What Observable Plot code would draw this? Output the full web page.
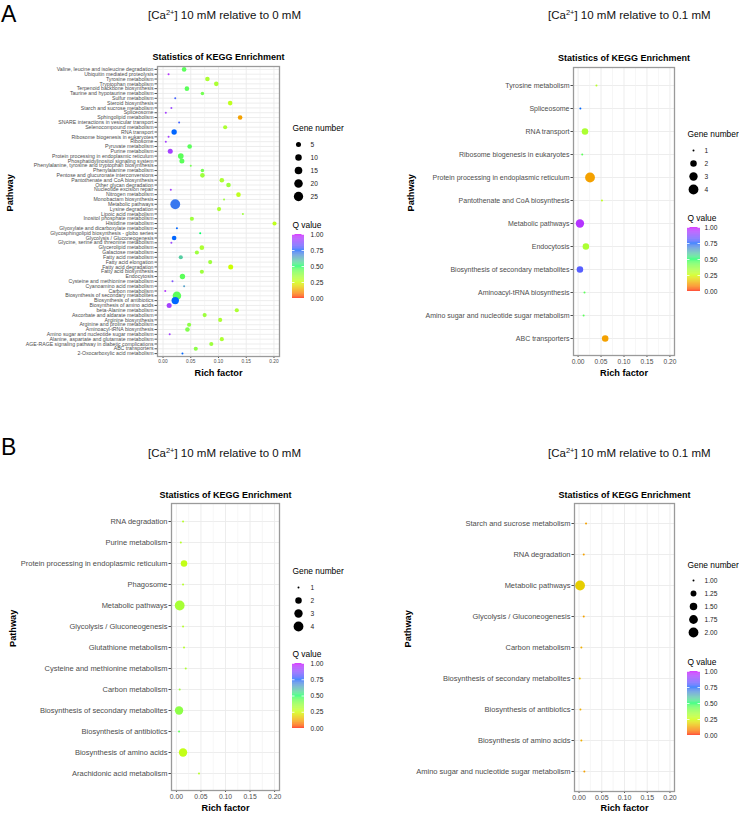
<!DOCTYPE html>
<html><head><meta charset="utf-8">
<script src="https://cdn.jsdelivr.net/npm/d3@7"></script>
<script src="https://cdn.jsdelivr.net/npm/@observablehq/plot@0.6"></script>
<style>
body{margin:0;background:#fff;}
#root{position:relative;width:739px;height:814px;overflow:hidden;font-family:"Liberation Sans",Arial,sans-serif;background:#fff;}
.letter{font-size:23px;line-height:26px;color:#000;}
.sub{font-size:11.5px;line-height:12px;color:#111;white-space:nowrap;}
.sub sup{font-size:7.5px;vertical-align:4px;line-height:0;}
</style></head><body><div id="root"></div>
<script>
// ---------- Panel A, left: [Ca2+] 10 mM relative to 0 mM ----------
const aLeftPathways = [
"Valine, leucine and isoleucine degradation","Ubiquitin mediated proteolysis","Tyrosine metabolism","Tryptophan metabolism",
"Terpenoid backbone biosynthesis","Taurine and hypotaurine metabolism","Sulfur metabolism","Steroid biosynthesis",
"Starch and sucrose metabolism","Spliceosome","Sphingolipid metabolism","SNARE interactions in vesicular transport",
"Selenocompound metabolism","RNA transport","Ribosome biogenesis in eukaryotes","Ribosome","Pyruvate metabolism",
"Purine metabolism","Protein processing in endoplasmic reticulum","Phosphatidylinositol signaling system",
"Phenylalanine, tyrosine and tryptophan biosynthesis","Phenylalanine metabolism","Pentose and glucuronate interconversions",
"Pantothenate and CoA biosynthesis","Other glycan degradation","Nucleotide excision repair","Nitrogen metabolism",
"Monobactam biosynthesis","Metabolic pathways","Lysine degradation","Lipoic acid metabolism","Inositol phosphate metabolism",
"Histidine metabolism","Glyoxylate and dicarboxylate metabolism","Glycosphingolipid biosynthesis - globo series",
"Glycolysis / Gluconeogenesis","Glycine, serine and threonine metabolism","Glycerolipid metabolism","Galactose metabolism",
"Fatty acid metabolism","Fatty acid elongation","Fatty acid degradation","Fatty acid biosynthesis","Endocytosis",
"Cysteine and methionine metabolism","Cyanoamino acid metabolism","Carbon metabolism","Biosynthesis of secondary metabolites",
"Biosynthesis of antibiotics","Biosynthesis of amino acids","beta-Alanine metabolism","Ascorbate and aldarate metabolism",
"Arginine biosynthesis","Arginine and proline metabolism","Aminoacyl-tRNA biosynthesis","Amino sugar and nucleotide sugar metabolism",
"Alanine, aspartate and glutamate metabolism","AGE-RAGE signaling pathway in diabetic complications","ABC transporters",
"2-Oxocarboxylic acid metabolism"];
const aLeftRich = [0.038,0.010,0.080,0.096,0.043,0.071,0.022,0.121,0.015,0.005,0.139,0.029,0.112,0.020,0.010,0.005,0.048,
0.013,0.032,0.034,0.050,0.071,0.071,0.106,0.118,0.014,0.136,0.110,0.022,0.101,0.144,0.052,0.201,0.025,0.067,0.020,0.015,
0.070,0.061,0.032,0.085,0.122,0.070,0.035,0.017,0.038,0.004,0.025,0.022,0.011,0.133,0.075,0.103,0.047,0.044,0.012,0.106,
0.087,0.059,0.035];
const aLeftGenes = [4,1,4,4,4,2,1,4,1,1,4,1,3,6,1,1,4,5,7,5,1,2,4,4,4,1,4,1,28,3,1,3,3,1,1,4,1,4,3,3,3,5,3,6,1,1,1,20,14,5,
3,3,3,3,4,1,3,3,3,1];
const aLeftQ = [0.45,0.95,0.32,0.32,0.45,0.42,0.78,0.28,0.9,0.92,0.12,0.78,0.32,0.75,0.92,0.92,0.45,0.92,0.45,0.45,0.42,0.42,
0.35,0.32,0.35,0.92,0.28,0.35,0.72,0.32,0.35,0.35,0.28,0.75,0.5,0.75,0.9,0.32,0.35,0.58,0.35,0.25,0.35,0.45,0.85,0.65,0.95,
0.45,0.75,0.92,0.32,0.35,0.32,0.38,0.4,0.92,0.32,0.35,0.38,0.75];
const aLeftLegend = [5,10,15,20,25];

// ---------- Panel A, right: [Ca2+] 10 mM relative to 0.1 mM ----------
const aRightPathways = ["Tyrosine metabolism","Spliceosome","RNA transport","Ribosome biogenesis in eukaryotes",
"Protein processing in endoplasmic reticulum","Pantothenate and CoA biosynthesis","Metabolic pathways","Endocytosis",
"Biosynthesis of secondary metabolites","Aminoacyl-tRNA biosynthesis","Amino sugar and nucleotide sugar metabolism","ABC transporters"];
const aRightRich = [0.040,0.005,0.015,0.009,0.026,0.052,0.004,0.017,0.004,0.014,0.012,0.059];
const aRightGenes = [1,1,2,1,4,1,3,2,2,1,1,2];
const aRightQ = [0.3,0.75,0.32,0.45,0.12,0.28,0.95,0.32,0.8,0.45,0.45,0.12];
const aRightLegend = [1,2,3,4];

// ---------- Panel B, left: [Ca2+] 10 mM relative to 0 mM ----------
const bLeftPathways = ["RNA degradation","Purine metabolism","Protein processing in endoplasmic reticulum","Phagosome",
"Metabolic pathways","Glycolysis / Gluconeogenesis","Glutathione metabolism","Cysteine and methionine metabolism",
"Carbon metabolism","Biosynthesis of secondary metabolites","Biosynthesis of antibiotics","Biosynthesis of amino acids",
"Arachidonic acid metabolism"];
const bLeftRich = [0.0135,0.009,0.0155,0.0135,0.0067,0.0135,0.0155,0.019,0.0067,0.0054,0.0054,0.0135,0.046];
const bLeftGenes = [1,1,2,1,4,1,1,1,1,3,1,3,1];
const bLeftQ = [0.3,0.3,0.27,0.3,0.33,0.3,0.3,0.32,0.35,0.38,0.45,0.27,0.3];
const bLeftLegend = [1,2,3,4];

// ---------- Panel B, right: [Ca2+] 10 mM relative to 0.1 mM ----------
const bRightPathways = ["Starch and sucrose metabolism","RNA degradation","Metabolic pathways","Glycolysis / Gluconeogenesis",
"Carbon metabolism","Biosynthesis of secondary metabolites","Biosynthesis of antibiotics","Biosynthesis of amino acids",
"Amino sugar and nucleotide sugar metabolism"];
const bRightRich = [0.0154,0.0103,0.0022,0.0103,0.0051,0.0015,0.003,0.0051,0.0117];
const bRightGenes = [1,1,2,1,1,1,1,1,1];
const bRightQ = [0.12,0.12,0.18,0.12,0.14,0.16,0.14,0.14,0.12];
const bRightLegend = [1,1.25,1.5,1.75,2];

const xMajor = [0,0.05,0.1,0.15,0.2];
const xMinor = [0.025,0.075,0.125,0.175];
const qTicks = [0,0.25,0.5,0.75,1];
const qSteps = d3.range(0,1,0.01);

const FONT = "Liberation Sans, Arial, sans-serif";
const COLOR = {type:"linear", domain:[0,0.25,0.5,0.75,1],
  range:["#FF0000","#CCFF00","#00FF66","#0066FF","#CC00FF"], interpolate:"lab"};
const R_RANGE = [1, 4.9];

const root = document.getElementById("root");
function place(el, left, top){ el.style.position="absolute"; el.style.left=left+"px"; el.style.top=top+"px"; root.appendChild(el); }
function html(cls, inner, left, top){ const d=document.createElement("div"); d.className=cls; d.innerHTML=inner; place(d,left,top); }

function panel(c){
  const data = c.pathways.map((p,i)=>({pathway:p, rich:c.rich[i], gene:c.genes[i], q:c.q[i]}));
  const gmin = d3.min(c.genes), gmax = d3.max(c.genes);
  const W = c.fx1 - c.svgLeft + 8, H = c.fy1 - c.svgTop + 22;
  const chart = Plot.plot({
    width: W, height: H,
    marginLeft: c.fx0 - c.svgLeft, marginRight: W - (c.fx1 - c.svgLeft),
    marginTop: c.fy0 - c.svgTop, marginBottom: H - (c.fy1 - c.svgTop),
    style:{fontFamily:FONT, background:"transparent", overflow:"visible"},
    x:{domain:[-0.01,0.21]},
    y:{type:"point", domain:c.pathways, padding:0.6},
    r:{type:"sqrt", domain:[0, gmax-gmin], range:R_RANGE},
    color: COLOR,
    marks:[
      Plot.gridY(c.pathways, {stroke:"#ebebeb", strokeOpacity:1, strokeWidth:0.9}),
      Plot.gridX(xMinor, {stroke:"#f0f0f0", strokeOpacity:1, strokeWidth:0.6}),
      Plot.gridX(xMajor, {stroke:"#ebebeb", strokeOpacity:1, strokeWidth:0.9}),
      Plot.axisX(xMajor, {tickFormat:d3.format(".2f"), tickSize:2, tickPadding:c.xPad, fontSize:c.xFont, label:null, color:"#4d4d4d"}),
      Plot.axisY(c.pathways, {tickSize:2.5, tickPadding:1.5, fontSize:c.yFont, label:null, color:"#4d4d4d"}),
      Plot.dot(data, {x:"rich", y:"pathway", r:d=>d.gene-gmin, fill:"q", stroke:null}),
      Plot.frame({stroke:"#9a9a9a", strokeWidth:1.3}),
      Plot.text(["Statistics of KEGG Enrichment"], {frameAnchor:"top", dy:-(c.fy0-c.titleY), lineAnchor:"middle", fontWeight:"bold", fontSize:9, fill:"#000"}),
      Plot.text(["Rich factor"], {frameAnchor:"bottom", dy:(c.xlabY-c.fy1), lineAnchor:"middle", fontWeight:"bold", fontSize:9.2, fill:"#000"}),
      Plot.text(["Pathway"], {frameAnchor:"left", dx:-(c.fx0-c.pathX), rotate:-90, lineAnchor:"middle", fontWeight:"bold", fontSize:9.2, fill:"#000"})
    ]
  });
  place(chart, c.svgLeft, c.svgTop);

  // size legend
  const vals = c.legend;
  const lTop = c.gTitleY - 8, lH = c.gy1 - lTop + 8;
  const sl = Plot.plot({
    width: 60, height: lH, marginLeft:0, marginRight:0, marginTop:c.gy0-lTop, marginBottom:8,
    style:{fontFamily:FONT, background:"transparent", overflow:"visible"},
    y:{type:"point", domain:vals, padding:0, axis:null},
    r:{type:"sqrt", domain:[0, gmax-gmin], range:R_RANGE},
    marks:[
      Plot.text(["Gene number"], {frameAnchor:"top-left", dy:-(c.gy0-c.gTitleY), lineAnchor:"middle", textAnchor:"start", fontSize:8.4, fill:"#000"}),
      Plot.dot(vals, {y:d=>d, r:d=>d-gmin, fill:"#000", frameAnchor:"left", dx:c.gDotX-c.gx}),
      Plot.text(vals, {y:d=>d, text:d=>c.legendFmt(d), frameAnchor:"left", dx:c.gLabX-c.gx, textAnchor:"start", fontSize:6.6, fill:"#222"})
    ]
  });
  place(sl, c.gx, lTop);

  // colour bar legend
  const cTop = c.qTitleY - 8, barW = c.bx1 - c.gx, cW = barW + 30, cH = c.by1 - cTop + 6;
  const cl = Plot.plot({
    width:cW, height:cH, marginLeft:0, marginRight:cW-barW, marginTop:c.by0-cTop, marginBottom:6,
    style:{fontFamily:FONT, background:"transparent", overflow:"visible"},
    y:{domain:[0,1]},
    color: COLOR,
    marks:[
      Plot.rect(qSteps, {y1:d=>d, y2:d=>Math.min(1,d+0.0101), fill:d=>d+0.005}),
      Plot.tickY(qTicks, {y:d=>d, stroke:"#fff", strokeWidth:0.8, insetRight:barW-2.5}),
      Plot.tickY(qTicks, {y:d=>d, stroke:"#fff", strokeWidth:0.8, insetLeft:barW-2.5}),
      Plot.axisY(qTicks, {anchor:"right", tickSize:0, tickPadding:c.gLabX-c.bx1, tickFormat:d3.format(".2f"), fontSize:6.6, color:"#222", label:null}),
      Plot.text(["Q value"], {frameAnchor:"top-left", dy:-(c.by0-c.qTitleY), lineAnchor:"middle", textAnchor:"start", fontSize:8.4, fill:"#000"})
    ]
  });
  place(cl, c.gx, cTop);
}

html("letter", "A", 1, 1);
html("letter", "B", 1, 434);
html("sub", "[Ca<sup>2+</sup>] 10 mM relative to 0 mM", 148, 9);
html("sub", "[Ca<sup>2+</sup>] 10 mM relative to 0.1 mM", 548, 9);
html("sub", "[Ca<sup>2+</sup>] 10 mM relative to 0 mM", 148, 447);
html("sub", "[Ca<sup>2+</sup>] 10 mM relative to 0.1 mM", 548, 447);

const fmt0 = d3.format("d"), fmt2 = d3.format(".2f");

panel({pathways:aLeftPathways, rich:aLeftRich, genes:aLeftGenes, q:aLeftQ, legend:aLeftLegend, legendFmt:fmt0,
  svgLeft:0, svgTop:40, fx0:157, fx1:279, fy0:66, fy1:356, titleY:57, xlabY:373, pathX:10,
  xFont:4.8, yFont:5.2, xPad:1.5,
  gx:292, gTitleY:128, gy0:143, gy1:196, gDotX:298, gLabX:310,
  qTitleY:225, by0:234, by1:298, bx1:304});

panel({pathways:aRightPathways, rich:aRightRich, genes:aRightGenes, q:aRightQ, legend:aRightLegend, legendFmt:fmt0,
  svgLeft:380, svgTop:40, fx0:573, fx1:674, fy0:67, fy1:355, titleY:58, xlabY:373, pathX:411,
  xFont:6.6, yFont:7, xPad:2,
  gx:687, gTitleY:134, gy0:149, gy1:190, gDotX:693, gLabX:704,
  qTitleY:218, by0:227, by1:291, bx1:700});

panel({pathways:bLeftPathways, rich:bLeftRich, genes:bLeftGenes, q:bLeftQ, legend:bLeftLegend, legendFmt:fmt0,
  svgLeft:0, svgTop:478, fx0:171, fx1:279, fy0:503, fy1:790, titleY:495, xlabY:808, pathX:13,
  xFont:6.8, yFont:7.5, xPad:2,
  gx:292, gTitleY:571, gy0:586, gy1:626, gDotX:298, gLabX:310,
  qTitleY:654, by0:663, by1:728, bx1:304});

panel({pathways:bRightPathways, rich:bRightRich, genes:bRightGenes, q:bRightQ, legend:bRightLegend, legendFmt:fmt2,
  svgLeft:380, svgTop:478, fx0:574, fx1:674, fy0:503, fy1:791, titleY:495, xlabY:808, pathX:408,
  xFont:7, yFont:7.5, xPad:2,
  gx:687, gTitleY:565, gy0:579, gy1:632, gDotX:693, gLabX:704,
  qTitleY:662, by0:671, by1:735, bx1:700});
</script>
</body></html>
